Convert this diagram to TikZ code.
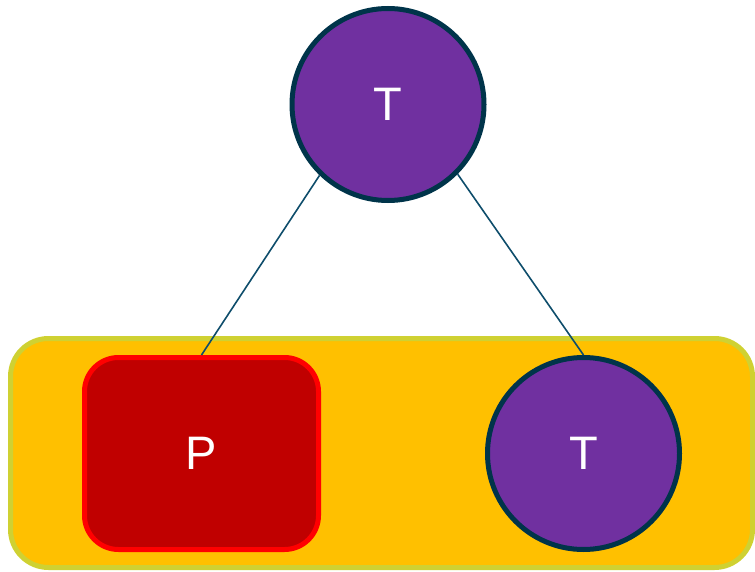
\documentclass[tikz,border=0pt]{standalone}
\usepackage{fontspec}
\setmainfont{Liberation Sans}
\usetikzlibrary{positioning}
\definecolor{tpurple}{HTML}{7030A0}
\definecolor{tborder}{HTML}{00344A}
\definecolor{pred}{HTML}{C00000}
\definecolor{pborder}{HTML}{FF0000}
\definecolor{gyellow}{HTML}{FFC000}
\definecolor{gborder}{HTML}{CFD132}
\definecolor{edgecol}{HTML}{0E4D6B}

\begin{document}
\begin{tikzpicture}[x=1pt, y=-1pt,
    tnode/.style={draw=tborder, fill=tpurple, shape=circle, line width=5pt,
        minimum size=192pt, inner sep=0pt, text=white, font=\fontsize{47}{50}\selectfont},
    pnode/.style={draw=pborder, fill=pred, rounded corners=34pt, line width=5pt,
        minimum width=234pt, minimum height=192pt, inner sep=0pt, text=white,
        font=\fontsize{47}{50}\selectfont},
    groupbox/.style={draw=gborder, fill=gyellow, rounded corners=38pt, line width=5pt,
        minimum width=742pt, minimum height=229pt},
    link/.style={draw=edgecol, line width=1.6pt}]
    \useasboundingbox (0,0) rectangle (755,572);
    \node(group)[groupbox] at (381.5,453) {};
    \node(Ttop)[tnode] at (388,104.5) {T};
    \node(P)[pnode] at (201.5,453.5) {P};
    \node(Tbot)[tnode] at (583.5,453.5) {T};
    \draw[link] (Ttop.226) -- (P.north);
    \draw[link] (Ttop.315) -- (Tbot.north);
\end{tikzpicture}
\end{document}
